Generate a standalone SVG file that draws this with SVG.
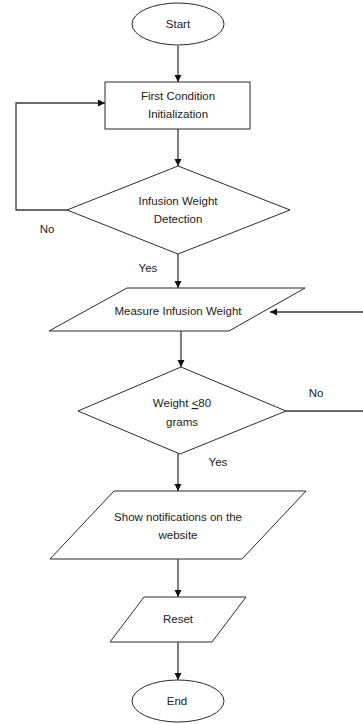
<svg xmlns="http://www.w3.org/2000/svg" width="363" height="724" viewBox="0 0 363 724">
<style>
.s{fill:#fff;stroke:#2b2b2b;stroke-width:1}
.c{fill:none;stroke:#3a3a3a;stroke-width:1.3}
.t{font-family:"Liberation Sans",Arial,sans-serif;font-size:11.5px;fill:#222;text-anchor:middle}
</style>
<defs>
<marker id="ah" markerWidth="8" markerHeight="8" refX="7" refY="4" orient="auto" markerUnits="userSpaceOnUse">
<path d="M0,0.5 L7,4 L0,7.5 Z" fill="#111"/>
</marker>
</defs>
<rect width="363" height="724" fill="#fff"/>
<g id="connectors">
<line class="c" x1="178" y1="46" x2="178" y2="82" marker-end="url(#ah)"/>
<line class="c" x1="178" y1="129" x2="178" y2="166" marker-end="url(#ah)"/>
<polyline class="c" points="67,210 16,210 16,103 105,103" marker-end="url(#ah)"/>
<line class="c" x1="178" y1="254" x2="178" y2="288" marker-end="url(#ah)"/>
<line class="c" x1="363" y1="312" x2="270" y2="312" marker-end="url(#ah)"/>
<line class="c" x1="181" y1="331" x2="181" y2="367" marker-end="url(#ah)"/>
<line class="c" x1="286" y1="411" x2="363" y2="411"/>
<line class="c" x1="178" y1="454" x2="178" y2="491" marker-end="url(#ah)"/>
<line class="c" x1="178" y1="559" x2="178" y2="597" marker-end="url(#ah)"/>
<line class="c" x1="178" y1="642" x2="178" y2="680" marker-end="url(#ah)"/>
<text class="t" x="47" y="233">No</text>
<text class="t" x="148" y="272">Yes</text>
<text class="t" x="316" y="397">No</text>
<text class="t" x="218" y="466">Yes</text>
</g>
<g id="start">
<ellipse class="s" cx="178" cy="24" rx="46" ry="21"/>
<text class="t" x="178" y="28">Start</text>
</g>
<g id="init">
<rect class="s" x="105" y="82" width="145" height="47"/>
<text class="t" x="178" y="100">First Condition</text>
<text class="t" x="178" y="118">Initialization</text>
</g>
<g id="detect">
<polygon class="s" points="178,166 290,210 178,254 67,210"/>
<text class="t" x="178" y="205">Infusion Weight</text>
<text class="t" x="178" y="223">Detection</text>
</g>
<g id="measure">
<polygon class="s" points="127,288 305,288 229,331 49,331"/>
<text class="t" x="178" y="315">Measure Infusion Weight</text>
</g>
<g id="check">
<polygon class="s" points="181,367 286,411 180,454 78,411"/>
<text class="t" x="182" y="407">Weight <tspan text-decoration="underline">&lt;</tspan>80</text>
<text class="t" x="182" y="426">grams</text>
</g>
<g id="notify">
<polygon class="s" points="114,491 306,491 242,559 50,559"/>
<text class="t" x="178" y="521">Show notifications on the</text>
<text class="t" x="178" y="539">website</text>
</g>
<g id="reset">
<polygon class="s" points="144,597 246,597 212,642 110,642"/>
<text class="t" x="178" y="623">Reset</text>
</g>
<g id="end">
<ellipse class="s" cx="178" cy="701" rx="46" ry="21"/>
<text class="t" x="177" y="705">End</text>
</g>
</svg>
